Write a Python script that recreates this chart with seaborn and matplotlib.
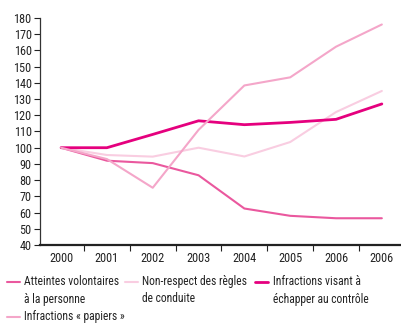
import seaborn as sns
import pandas as pd
import matplotlib.pyplot as plt
from matplotlib.lines import Line2D
from matplotlib.ticker import FixedLocator

years = ["2000", "2001", "2002", "2003", "2004", "2005", "2006", "2006"]
atteintes = [100, 92, 90.5, 83, 62.5, 58, 56.5, 56.5]
non_respect = [100, 95.5, 94.5, 100, 94.6, 103.5, 122, 135]
echapper = [100, 100, 108.2, 116.6, 114.2, 115.6, 117.5, 127]
papiers = [100, 93, 75.3, 111, 138.4, 143.4, 162.3, 176]

labels = ["Atteintes volontaires\nà la personne",
          "Non-respect des règles\nde conduite",
          "Infractions visant à\néchapper au contrôle",
          "Infractions « papiers »"]
colors = ["#ea589e", "#f9cde1", "#e5007e", "#f4a6c9"]
widths = [1.5, 1.5, 2.0, 1.5]

series = [atteintes, non_respect, echapper, papiers]
rows = []
for lab, vals in zip(labels, series):
    for i, v in enumerate(vals):
        rows.append({"pos": i, "value": v, "serie": lab})
df = pd.DataFrame(rows)

sns.set_theme(style="white")
plt.rcParams['font.family'] = ['Roboto Condensed', 'Liberation Sans', 'DejaVu Sans']

W, H = 402, 323
fig, ax = plt.subplots(figsize=(W / 100, H / 100), dpi=100)
fig.subplots_adjust(left=40 / W, right=1.0, bottom=1 - 245 / H, top=1 - 18 / H)

sns.lineplot(data=df, x="pos", y="value", hue="serie", palette=colors,
             hue_order=labels, ax=ax, legend=False)
for line, w in zip(ax.lines, widths):
    line.set_linewidth(w)

ax.set_xlim(-0.46, 7.44)
ax.set_ylim(40, 180)
ax.set_yticks(range(40, 181, 10))
ax.set_xticks(range(len(years)))
ax.set_xticklabels(years)
ax.xaxis.set_minor_locator(FixedLocator([k - 0.5 for k in range(1, len(years))]))
ax.tick_params(axis="x", which="major", length=0, labelsize=8.8, pad=5, colors="#222222")
ax.tick_params(axis="x", which="minor", bottom=True, length=4, width=0.8, color="#222222")
ax.tick_params(axis="y", left=True, length=4, width=0.8, labelsize=8.8, pad=2,
               colors="#222222")
ax.set_xlabel("")
ax.set_ylabel("")
sns.despine(ax=ax)
ax.spines["left"].set_color("#333333")
ax.spines["left"].set_linewidth(0.9)
ax.spines["bottom"].set_color("#222222")
ax.spines["bottom"].set_linewidth(1.6)

# legend, laid out like the original (swatch next to the first line)
entries = [(7, 24, 282), (125, 142, 282), (255, 273, 282), (7, 24, 317)]
for idx, (x0, xt, y) in enumerate([entries[0], entries[1], entries[2], entries[3]]):
    fig.add_artist(Line2D([x0 / W, (x0 + 13) / W], [1 - y / H, 1 - y / H],
                          color=colors[idx], lw=widths[idx], transform=fig.transFigure))
    fig.text(xt / W, 1 - (y - 7) / H, labels[idx], va="top", ha="left",
             fontsize=8.4, color="#222222", linespacing=1.45)

plt.savefig("out.png", dpi=100)
